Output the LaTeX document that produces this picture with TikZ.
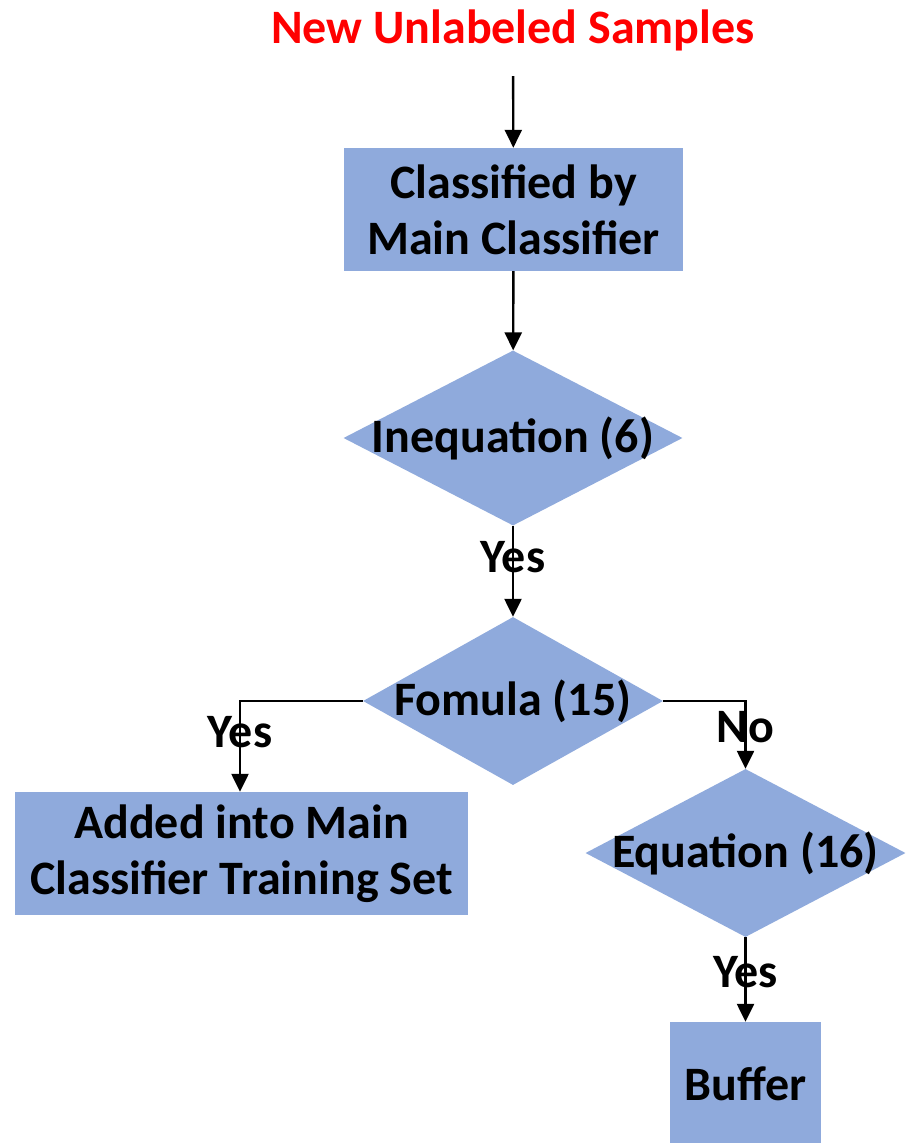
\documentclass[tikz,border=0pt]{standalone}
\usepackage{fontspec}
\setmainfont{Carlito}
\usetikzlibrary{arrows.meta,shapes.geometric}
\definecolor{boxblue}{RGB}{143,170,220}
\definecolor{titlered}{RGB}{255,0,0}

\begin{document}
\begin{tikzpicture}[x=1pt,y=-1pt,>={Triangle[length=18pt,width=17pt]},
	every node/.style={font=\fontsize{48}{56}\selectfont\bfseries},
	procbox/.style={rectangle,fill=boxblue,inner sep=0pt,align=center,minimum height=123pt},
	decision/.style={diamond,fill=boxblue,inner sep=0pt},
	flow/.style={->,line width=2.4pt}]
		\useasboundingbox (0,0) rectangle (905,1143);
		% nodes
		\node[text=titlered,anchor=base] (new) at (513,43) {New Unlabeled Samples};
		\node[procbox,minimum width=339pt] (clf) at (513.5,209.5) {Classified by\\Main Classifier};
		\node[decision,minimum width=339pt,minimum height=175pt] (ineq) at (513,438) {\makebox[0pt]{Inequation (6)}};
		\node[decision,minimum width=300pt,minimum height=168pt] (fom) at (513,701) {\makebox[0pt]{Fomula (15)}};
		\node[procbox,minimum width=453pt] (added) at (241.5,853.5) {Added into Main\\Classifier Training Set};
		\node[decision,minimum width=320pt,minimum height=168pt] (equ) at (745.5,853) {\makebox[0pt]{Equation (16)}};
		\node[procbox,minimum width=151pt] (buffer) at (745.5,1083.5) {Buffer};
		% connectors
		\draw[flow,shorten <=22pt] (new) -- (clf);
		\draw[flow] (clf) -- (ineq);
		\draw[flow] (ineq) -- node[pos=0.35] {Yes} (fom);
		\draw[flow] (fom.west) -| node[pos=0.67] {Yes} (added.north -| 240,0);
		\draw[flow] (fom.east) -| node[pos=0.69] {No} (equ.north);
		\draw[flow] (equ) -- node[pos=0.41] {Yes} (buffer);
\end{tikzpicture}
\end{document}
